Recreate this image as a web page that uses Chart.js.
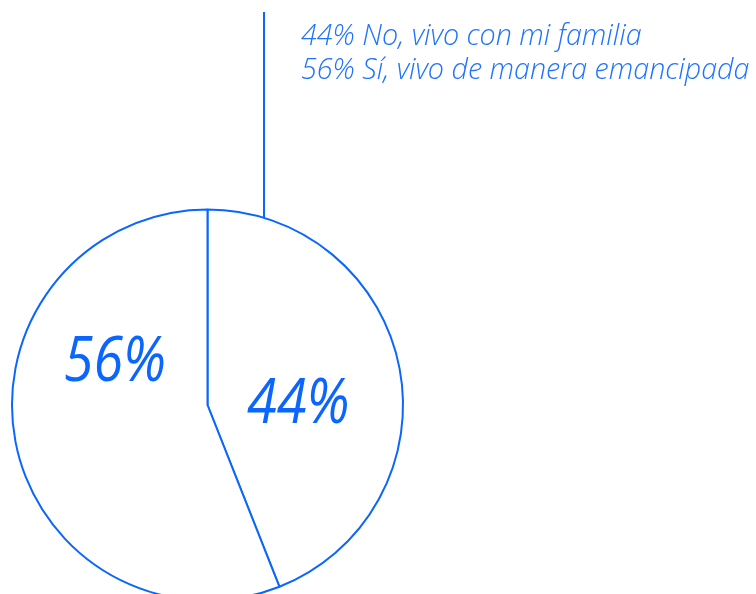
<!DOCTYPE html>
<html>
<head>
<meta charset="utf-8">
<script src="https://cdn.jsdelivr.net/npm/chart.js@4/dist/chart.umd.min.js"></script>
<style>
html,body{margin:0;padding:0;background:#fff;overflow:hidden;}
#wrap{position:relative;width:756px;height:594px;overflow:hidden;}
canvas{position:absolute;left:0;top:0;}
</style>
</head>
<body>
<div id="wrap"><canvas id="c" width="756" height="800"></canvas></div>
<script>
const categories = ["No, vivo con mi familia", "Sí, vivo de manera emancipada"];
const values = [44, 56];
const sliceLabels = ["44%", "56%"];

const BLUE = "#0a66ff";
const TEXT_BLUE = "#1f73ff";

const overlay = {
  id: "overlay",
  afterDraw(chart) {
    const ctx = chart.ctx;
    const arc = chart.getDatasetMeta(0).data[0];
    const cx = arc.x, cy = arc.y, r = arc.outerRadius;
    ctx.save();
    // leader line
    const lx = cx + 0.289 * r;
    const ly = cy - Math.sqrt(r * r - (lx - cx) * (lx - cx));
    ctx.strokeStyle = BLUE;
    ctx.lineWidth = 2;
    ctx.beginPath();
    ctx.moveTo(lx, 12);
    ctx.lineTo(lx, ly);
    ctx.stroke();
    // legend text
    ctx.fillStyle = TEXT_BLUE;
    ctx.font = "italic 300 28.7px 'Open Sans'";
    ctx.textBaseline = "alphabetic";
    ctx.textAlign = "left";
    categories.forEach((c, i) => {
      ctx.fillText(values[i] + "% " + c, 301, 45 + i * 34);
    });
    // slice labels
    ctx.fillStyle = BLUE;
    ctx.font = "italic 400 62px 'Open Sans'";
    ctx.textAlign = "center";
    ctx.textBaseline = "middle";
    const pos = [[0.464, 0.0], [-0.474, -0.215]];
    const sx = 0.87;
    sliceLabels.forEach((t, i) => {
      ctx.save();
      ctx.translate(cx + pos[i][0] * r, cy + pos[i][1] * r);
      ctx.scale(sx, 1);
      ctx.fillText(t, 0, 0);
      ctx.restore();
    });
    ctx.restore();
  }
};

new Chart(document.getElementById("c"), {
  type: "pie",
  data: {
    labels: categories,
    datasets: [{
      data: values,
      backgroundColor: "#ffffff",
      borderColor: BLUE,
      borderWidth: 2
    }]
  },
  options: {
    responsive: false,
    animation: false,
    layout: { padding: { left: 11, top: 208.5, right: 352, bottom: 198.5 } },
    plugins: { legend: { display: false }, tooltip: { enabled: false } }
  },
  plugins: [overlay]
});
</script>
</body>
</html>
